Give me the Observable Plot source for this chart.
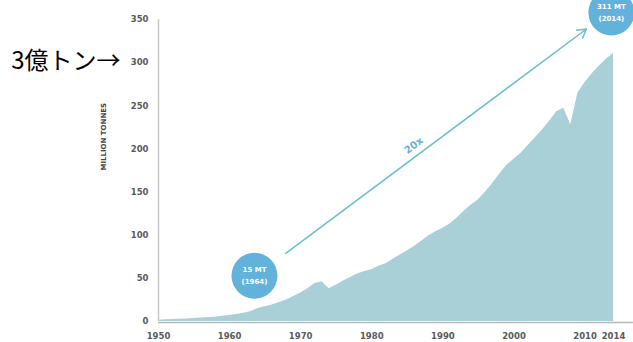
<!DOCTYPE html>
<html>
<head>
<meta charset="utf-8">
<script src="https://cdn.jsdelivr.net/npm/d3@7"></script>
<script src="https://cdn.jsdelivr.net/npm/@observablehq/plot@0.6"></script>
<style>
  html, body { margin: 0; padding: 0; background: #fff; }
  #chart svg { display: block; }
</style>
</head>
<body>
<div id="chart"></div>
<script>
const years = [1950,1951,1952,1953,1954,1955,1956,1957,1958,1959,
  1960,1961,1962,1963,1964,1965,1966,1967,1968,1969,
  1970,1971,1972,1973,1974,1975,1976,1977,1978,1979,
  1980,1981,1982,1983,1984,1985,1986,1987,1988,1989,
  1990,1991,1992,1993,1994,1995,1996,1997,1998,1999,
  2000,2001,2002,2003,2004,2005,2006,2007,2008,2009,
  2010,2011,2012,2013,2014];
const production = [1.5,2,2.3,2.7,3,3.5,4,4.5,5,6,
  7,8,9.5,11.5,15,17,19,22,25,29,
  33,38,44,46,38,42,47,51,55,58,
  60,64,67,72,77,82,87,93,99,104,
  108,113,120,128,135,141,150,160,171,181,
  188,195,204,213,222,232,243,247,228,265,
  277,287,296,304,311];
const yTicks = [0,50,100,150,200,250,300,350];
const xTicks = [1950,1960,1970,1980,1990,2000,2010,2014];
const yLabel = "MILLION TONNES";
const sideNote = "3億トン→";
const bubbles = [
  {year: 1963.5, value: 53, line1: "15 MT", line2: "(1964)"},
  {year: 2013.7, value: 358, line1: "311 MT", line2: "(2014)"}
];
const growthArrow = [{x1: 1967.9, y1: 79, x2: 2010.2, y2: 339}];
const growthLabel = [{year: 1985.9, value: 204, text: "20x"}];

const data = years.map((y, i) => ({year: y, value: production[i]}));

const tickFont = "'DejaVu Sans', sans-serif";

const chart = Plot.plot({
  width: 633,
  height: 342,
  marginLeft: 158,
  marginRight: 20,
  marginTop: 19,
  marginBottom: 21,
  style: {fontFamily: tickFont, background: "#fff", overflow: "visible"},
  x: {domain: [1950, 2014], axis: null},
  y: {domain: [0, 350], axis: null},
  marks: [
    Plot.areaY(data, {x: "year", y: "value", fill: "#a9d0d7"}),
    Plot.ruleX([1950], {y1: 0, y2: 350, stroke: "#c9c9c9", strokeWidth: 1.5}),
    Plot.ruleY([0], {x1: 1950, x2: 2016.8, stroke: "#b9b9b9", strokeWidth: 1.5, dy: 1}),
    Plot.text(yTicks, {x: 1950, y: d => d, text: d => String(d), textAnchor: "end", dx: -10,
      fontSize: 8.5, fontWeight: "bold", fill: "#5a5a5a"}),
    Plot.text(xTicks, {x: d => d, y: 0, text: d => String(d), dy: 15,
      fontSize: 8.5, fontWeight: "bold", fill: "#5a5a5a"}),
    Plot.text([yLabel], {frameAnchor: "left", dx: -55, rotate: -90,
      fontSize: 7, fontWeight: "bold", fill: "#444"}),
    Plot.text([sideNote], {x: 1950, y: 300, text: d => d, textAnchor: "end", dx: -38, dy: -1,
      fontSize: 24, fill: "#000", fontFamily: "'Noto Sans CJK JP', sans-serif"}),
    Plot.arrow(growthArrow, {x1: "x1", y1: "y1", x2: "x2", y2: "y2",
      stroke: "#6bbfc8", strokeWidth: 1.5, headLength: 10}),
    Plot.text(growthLabel, {x: "year", y: "value", text: "text", rotate: -37,
      fontSize: 10, fontWeight: "bold", fill: "#62b0dc"}),
    Plot.dot(bubbles, {x: "year", y: "value", r: 23, fill: "#62b2dc"}),
    Plot.text(bubbles, {x: "year", y: "value", text: "line1", dy: -6,
      fontSize: 7, fontWeight: "bold", fill: "#fff"}),
    Plot.text(bubbles, {x: "year", y: "value", text: "line2", dy: 6,
      fontSize: 7, fontWeight: "bold", fill: "#fff"})
  ]
});
document.getElementById("chart").appendChild(chart);
</script>
</body>
</html>
